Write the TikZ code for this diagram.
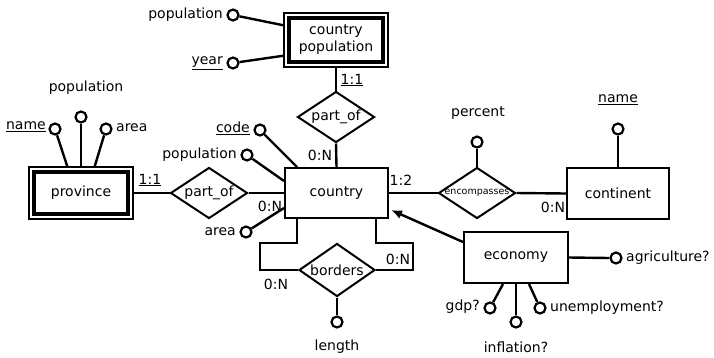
\documentclass[tikz,border=0pt]{standalone}
\usepackage{fontspec}
\setmainfont{DejaVu Sans}
\usetikzlibrary{shapes.geometric,arrows.meta,calc}
\tikzset{
  ent/.style={draw,line width=2pt,rectangle,minimum width=103pt,minimum height=50pt,inner sep=0pt,align=center},
  went/.style={draw,line width=1.5pt,rectangle,minimum width=104pt,minimum height=52pt,inner sep=0pt,align=center,
    append after command={\pgfextra{\draw[line width=3.6pt] ([shift={(5.5pt,-5.5pt)}]\tikzlastnode.north west) rectangle ([shift={(-5.5pt,5.5pt)}]\tikzlastnode.south east);}}},
  rel/.style={draw,line width=2pt,diamond,minimum width=77pt,minimum height=51pt,inner sep=0pt},
  att/.style={draw,line width=2.2pt,circle,minimum size=11pt,inner sep=0pt,fill=white},
  lbl/.style={inner sep=0pt},
  conn/.style={line width=2.4pt},
}
\begin{document}
\begin{tikzpicture}[x=1pt,y=-1pt,font=\fontsize{14}{16}\selectfont]
\useasboundingbox (0,0) rectangle (714,357);
% entities
\node[went,minimum height=54pt] (cpop) at (336,40) {country\\[1pt]population};
\node[went] (prov) at (81,193) {province};
\node[ent] (country) at (336.5,193) {country};
\node[ent,minimum width=102pt,minimum height=51pt] (cont) at (618,193.5) {continent};
\node[ent,minimum width=104pt,minimum height=51pt] (econ) at (516,257.5) {economy};
% relationships
\node[rel] (pof1) at (336,117) {};
\node[lbl] at (pof1) {part\_of};
\node[rel] (pof2) at (209,193) {};
\node[lbl] at (pof2) {part\_of};
\node[rel,minimum width=76pt,minimum height=53pt] (bord) at (337,270) {};
\node[lbl] at (bord) {borders};
\node[rel] (enc) at (477,193) {};
\node[lbl,font=\fontsize{9.5}{11}\selectfont] at (enc) {encompasses};
% attribute circles
\node[att] (a1) at (233,15) {};
\node[att] (a2) at (233,63) {};
\node[att] (p1) at (55,129) {};
\node[att] (p2) at (81,117) {};
\node[att] (p3) at (106,129) {};
\node[att] (c1) at (260,130) {};
\node[att] (c2) at (247,155) {};
\node[att] (c3) at (246,232) {};
\node[att] (b1) at (337,322) {};
\node[att] (e1) at (477,142) {};
\node[att] (n1) at (618,129) {};
\node[att] (g1) at (616,258) {};
\node[att] (g2) at (490,308) {};
\node[att] (g3) at (516,322) {};
\node[att] (g4) at (540,308) {};
% connectors
\draw[conn] (cpop.south) -- (pof1.north);
\draw[conn] (pof1.south) -- (country.north);
\draw[conn] (prov.east) -- (pof2.west);
\draw[conn] (pof2.east) -- (country.west);
\draw[conn] (country.east) -- (enc.west);
\draw[conn] (enc.east) -- (cont.west);
\coordinate (bl) at (260,243);
\coordinate (br) at (413,243);
\draw[conn] ([xshift=13pt]country.south west) |- (bl) |- (bord.west);
\draw[conn] (bord.east) -| (br) -| ([xshift=-13pt]country.south east);
\draw[conn,-{Latex[length=11pt,width=9pt]}] ([yshift=-11pt]econ.north west) -- ([shift={(2pt,9pt)}]country.south east);
\draw[conn] (a1) -- ([yshift=-13pt]cpop.north west);
\draw[conn] (a2) -- ([yshift=12pt]cpop.south west);
\draw[conn] (p1) -- ([xshift=39pt]prov.north west);
\draw[conn] (p2.south) -- (prov.north);
\draw[conn] (p3) -- ([xshift=-39pt]prov.north east);
\draw[conn] (c1) -- ([xshift=13pt]country.north west);
\draw[conn] (c2) -- ([yshift=-14pt]country.north west);
\draw[conn] (c3) -- ([yshift=11pt]country.south west);
\draw[conn] (bord.south) -- (b1.north);
\draw[conn] (e1.south) -- (enc.north);
\draw[conn] (n1.south) -- (cont.north);
\draw[conn] (econ.east) -- (g1.west);
\draw[conn] ([xshift=-13pt]econ.south) -- (g2);
\draw[conn] (econ.south) -- (g3.north);
\draw[conn] ([xshift=13pt]econ.south) -- (g4);
% cardinalities
\node[lbl] at (352,80) {\underline{1:1}};
\node[lbl] at (320,155) {0:N};
\node[lbl] at (150,180) {\underline{1:1}};
\node[lbl] at (270,206) {0:N};
\node[lbl] at (401,180) {1:2};
\node[lbl] at (553,207) {0:N};
\node[lbl] at (276,284) {0:N};
\node[lbl] at (398,259) {0:N};
% attribute labels
\node[lbl,anchor=east] at (223,15) {population};
\node[lbl,anchor=east] at (223,63) {\underline{year}};
\node[lbl,anchor=east] at (46,127) {\underline{name}};
\node[lbl] at (86,88) {population};
\node[lbl,anchor=west] at (116,128) {area};
\node[lbl,anchor=east] at (250,128) {\underline{code}};
\node[lbl,anchor=east] at (237,155) {population};
\node[lbl,anchor=east] at (236,232) {area};
\node[lbl] at (337,347) {length};
\node[lbl] at (478,113) {percent};
\node[lbl] at (618,100) {\underline{name}};
\node[lbl,anchor=west] at (626,258) {agriculture?};
\node[lbl,anchor=east] at (480,307) {gdp?};
\node[lbl] at (516,347) {inflation?};
\node[lbl,anchor=west] at (550,308) {unemployment?};
\end{tikzpicture}
\end{document}
